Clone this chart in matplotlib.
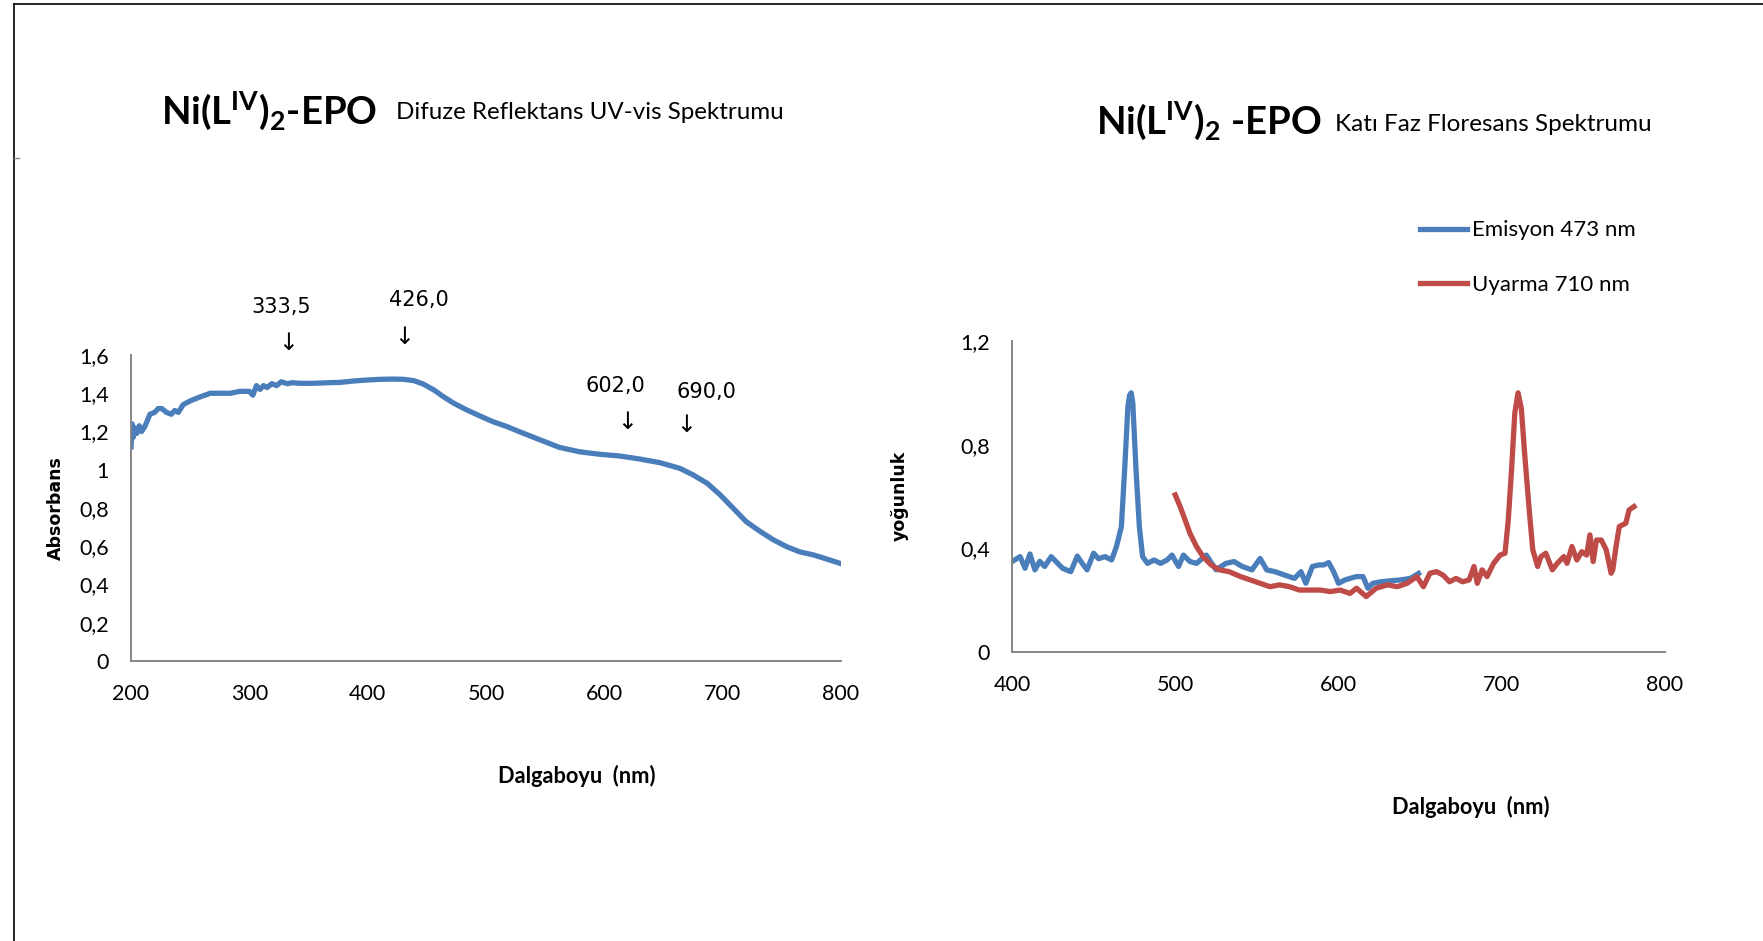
import matplotlib
matplotlib.use("Agg")
import matplotlib.pyplot as plt
from matplotlib.lines import Line2D

# ============================================================
# 1. DATA
# ============================================================

# Diffuse reflectance UV-vis, wavelength (nm) / absorbance
uv_x = [200, 201, 202, 203, 205, 207, 209, 212, 216, 220, 223, 226, 230, 234, 237,
        240, 244, 250, 258, 267, 275, 284, 292, 300, 303, 306, 309, 312, 315, 319,
        323, 327, 332, 336, 343, 354, 366, 377, 388, 399, 411, 422, 430, 439, 447,
        456, 464, 473, 484, 495, 506, 518, 529, 545, 562, 579, 596, 613, 630,
        647, 664, 675, 687, 698, 709, 720, 732, 743, 754, 765, 777, 788, 799]
uv_y = [1.12, 1.24, 1.17, 1.22, 1.19, 1.23, 1.20, 1.23, 1.29, 1.30, 1.32, 1.32, 1.30,
        1.29, 1.31, 1.30, 1.34, 1.36, 1.38, 1.40, 1.40, 1.40, 1.41, 1.41, 1.39, 1.44,
        1.42, 1.44, 1.43, 1.45, 1.44, 1.46, 1.45, 1.455, 1.452, 1.452, 1.455, 1.457,
        1.464, 1.469, 1.473, 1.474, 1.473, 1.466, 1.448, 1.417, 1.382, 1.347, 1.312,
        1.281, 1.251, 1.225, 1.197, 1.158, 1.117, 1.094, 1.081, 1.072, 1.056,
        1.037, 1.007, 0.973, 0.929, 0.868, 0.798, 0.728, 0.676, 0.633, 0.598, 0.571,
        0.554, 0.533, 0.511]

# peak markers on the UV-vis spectrum
peak_labels = ["333,5", "426,0", "602,0", "690,0"]
peak_label_xy = [(327, 1.852), (443, 1.889), (609, 1.438), (686, 1.406)]
peak_arrow_xy = [(333, 1.663), (431, 1.695), (619, 1.249), (669, 1.233)]

# Solid state fluorescence
em_x = [400, 405, 408, 411, 414, 417, 420, 424, 428, 431, 436, 440, 443, 446, 450,
        453, 457, 461, 464, 467, 469, 471, 472, 473, 474, 476, 478, 480, 483, 487,
        491, 495, 498, 502, 505, 509, 513, 519, 525, 531, 536, 541, 547, 552, 556,
        561, 567, 573, 577, 580, 584, 588, 591, 594, 597, 600, 604, 607, 611, 615,
        618, 621, 626, 632, 638, 644, 649]
em_y = [0.349, 0.368, 0.323, 0.378, 0.317, 0.35, 0.33, 0.368, 0.342, 0.323, 0.31,
        0.37, 0.342, 0.317, 0.381, 0.36, 0.368, 0.355, 0.407, 0.484, 0.703, 0.947,
        0.99, 1.0, 0.96, 0.70, 0.484, 0.368, 0.342, 0.355, 0.342, 0.355, 0.374, 0.33,
        0.374, 0.349, 0.342, 0.374, 0.317, 0.342, 0.349, 0.33, 0.317, 0.361, 0.317,
        0.31, 0.297, 0.284, 0.31, 0.265, 0.33, 0.336, 0.336, 0.345, 0.31, 0.265,
        0.278, 0.284, 0.291, 0.291, 0.246, 0.265, 0.271, 0.275, 0.278, 0.284, 0.303]

ex_x = [500, 503, 506, 509, 513, 517, 522, 527, 533, 540, 546, 552, 558, 564, 570,
        576, 582, 589, 595, 601, 607, 611, 617, 623, 630, 636, 642, 648, 652, 656,
        660, 664, 668, 672, 676, 680, 683, 685, 688, 691, 695, 699, 702, 704, 706,
        708, 710, 712, 714, 717, 719, 722, 724, 727, 731, 734, 738, 740, 743, 746,
        749, 752, 754, 756, 758, 761, 764, 767, 768, 770, 772, 776, 778, 781]
ex_y = [0.606, 0.561, 0.51, 0.458, 0.407, 0.368, 0.336, 0.317, 0.31, 0.291, 0.278,
        0.265, 0.252, 0.259, 0.252, 0.239, 0.239, 0.239, 0.233, 0.239, 0.226, 0.246,
        0.214, 0.246, 0.259, 0.252, 0.265, 0.291, 0.252, 0.304, 0.31, 0.297, 0.271,
        0.284, 0.271, 0.278, 0.33, 0.265, 0.317, 0.291, 0.342, 0.374, 0.381, 0.51,
        0.703, 0.922, 1.0, 0.94, 0.767, 0.535, 0.394, 0.33, 0.368, 0.381, 0.317,
        0.342, 0.368, 0.342, 0.407, 0.355, 0.387, 0.374, 0.452, 0.349, 0.432, 0.432,
        0.394, 0.304, 0.317, 0.407, 0.484, 0.497, 0.548, 0.561]

uv_xticks = [200, 300, 400, 500, 600, 700, 800]
uv_yticks = [0, 0.2, 0.4, 0.6, 0.8, 1.0, 1.2, 1.4, 1.6]
fl_xticks = [400, 500, 600, 700, 800]
fl_yticks = [0, 0.4, 0.8, 1.2]

BLUE = "#4A7EBB"
RED = "#BE4B48"
GRAY = "#868686"
FONT = "Lato"
LW = 3.8

plt.rcParams["mathtext.fontset"] = "custom"
plt.rcParams["mathtext.rm"] = "Lato"
plt.rcParams["mathtext.bf"] = "Lato:bold"

W, H = 1763, 941


def fx(px):
    return px / W


def fy(py):
    return 1 - py / H


def comma(v):
    return f"{v:g}".replace(".", ",")


def style_axes(ax, xticks, yticks):
    for s in ["top", "right"]:
        ax.spines[s].set_visible(False)
    for s in ["left", "bottom"]:
        ax.spines[s].set_color(GRAY)
        ax.spines[s].set_linewidth(1.4)
    ax.set_xticks(xticks)
    ax.set_yticks(yticks)
    ax.set_xticklabels([comma(v) for v in xticks], fontfamily=FONT, fontsize=15.5)
    ax.set_yticklabels([comma(v) for v in yticks], fontfamily=FONT, fontsize=15.5)
    ax.tick_params(axis="x", length=0, pad=16.5)
    ax.tick_params(axis="y", length=0, pad=16)


# ============================================================
# 2. FIGURE
# ============================================================

fig = plt.figure(figsize=(W / 100, H / 100), dpi=100)

# page border lines (top and left)
fig.add_artist(Line2D([fx(14), 1], [fy(4), fy(4)], color="black", lw=1.2))
fig.add_artist(Line2D([fx(14), fx(14)], [fy(4), 0], color="black", lw=1.2))
fig.add_artist(Line2D([fx(14), fx(19)], [fy(158), fy(158)], color=GRAY, lw=1))

# ---------------- left: UV-vis ----------------
ax1 = fig.add_axes([fx(131), fy(661), fx(841 - 131), (661 - 355) / H])
ax1.plot(uv_x, uv_y, color=BLUE, lw=LW, solid_joinstyle="round")
ax1.set_xlim(200, 800)
ax1.set_ylim(0, 1.6)
style_axes(ax1, uv_xticks, uv_yticks)

for lab, (lx, ly), (axx, ayy) in zip(peak_labels, peak_label_xy, peak_arrow_xy):
    ax1.text(lx, ly, lab, ha="center", va="center", fontsize=15,
             family="DejaVu Sans", clip_on=False)
    ax1.text(axx, ayy, "\u2193", ha="center", va="center", fontsize=17,
             family="DejaVu Sans", clip_on=False)

fig.text(fx(56), fy(508), "Absorbans", rotation=90, ha="center", va="center",
         fontsize=12.5, fontweight="bold", family="DejaVu Sans")
fig.text(fx(577), fy(776), "Dalgaboyu  (nm)", ha="center", va="center",
         fontsize=15.7, fontweight="bold", family=FONT)

fig.text(fx(161), fy(124), r"Ni(L$\mathbf{^{IV}}$)$\mathbf{_{2}}$-EPO",
         ha="left", va="baseline", fontsize=27.5, fontweight="bold", family=FONT)
fig.text(fx(396), fy(119), "Difuze Reflektans UV-vis Spektrumu",
         ha="left", va="baseline", fontsize=17.4, family=FONT)

# ---------------- right: fluorescence ----------------
ax2 = fig.add_axes([fx(1012), fy(652), fx(1665 - 1012), (652 - 341) / H])
ax2.plot(em_x, em_y, color=BLUE, lw=LW, label="Emisyon 473 nm",
         solid_joinstyle="round")
ax2.plot(ex_x, ex_y, color=RED, lw=LW, label="Uyarma 710 nm",
         solid_joinstyle="round")
ax2.set_xlim(400, 800)
ax2.set_ylim(0, 1.2)
style_axes(ax2, fl_xticks, fl_yticks)

fig.text(fx(900), fy(496), "yo\u011funluk", rotation=90, ha="center", va="center",
         fontsize=12.5, fontweight="bold", family="DejaVu Sans")
fig.text(fx(1471), fy(807), "Dalgaboyu  (nm)", ha="center", va="center",
         fontsize=15.7, fontweight="bold", family=FONT)

fig.text(fx(1096), fy(134), r"Ni(L$\mathbf{^{IV}}$)$\mathbf{_{2}}$ -EPO",
         ha="left", va="baseline", fontsize=27.5, fontweight="bold", family=FONT)
fig.text(fx(1335), fy(131), "Kat\u0131 Faz Floresans Spektrumu",
         ha="left", va="baseline", fontsize=17.5, family=FONT)

leg = fig.legend(loc="upper left", bbox_to_anchor=(fx(1420), fy(220.5)),
                 frameon=False, handlelength=2.1, handletextpad=0.25,
                 labelspacing=1.55, borderpad=0, borderaxespad=0,
                 prop={"family": FONT, "size": 16})
for line in leg.get_lines():
    line.set_linewidth(3.8)

fig.savefig("out.png", dpi=100)
